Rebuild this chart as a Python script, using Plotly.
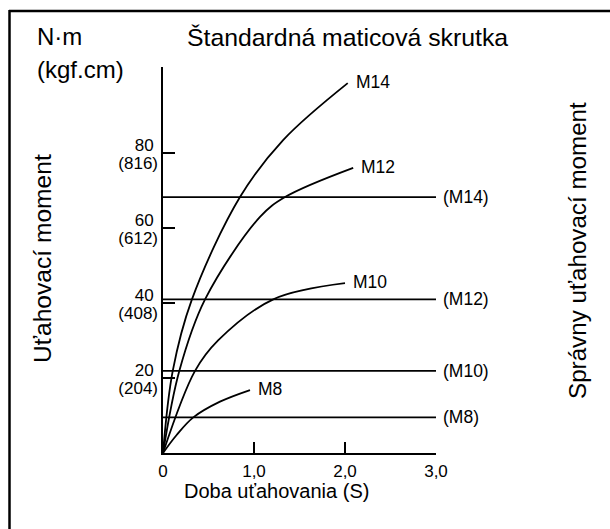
import plotly.graph_objects as go

# ---- data ----
m14_t = [0, 0.107, 0.315, 0.846, 1.32, 2.03]
m14_v = [0, 21.9, 40.8, 68.3, 83.5, 98.7]
m12_t = [0, 0.179, 0.462, 1.066, 1.341, 2.09]
m12_v = [0, 21.9, 41.0, 63.0, 68.3, 76.1]
m10_t = [0, 0.352, 0.608, 1.212, 2.0]
m10_v = [0, 21.9, 30.1, 41.0, 45.3]
m8_t = [0, 0.15, 0.333, 0.626, 0.956]
m8_v = [0, 4.8, 9.5, 13.7, 16.8]
curve_names = ["M14", "M12", "M10", "M8"]

corr_labels = ["(M14)", "(M12)", "(M10)", "(M8)"]
corr_values = [68.3, 41.0, 21.9, 9.5]

x_tickvals = [0, 1, 2, 3]
x_ticktext = ["0", "1,0", "2,0", "3,0"]
y_tickvals = [20, 40, 60, 80]
y_ticktext_nm = ["20", "40", "60", "80"]
y_ticktext_kgf = ["(204)", "(408)", "(612)", "(816)"]

title = "Štandardná maticová skrutka"
unit1 = "N·m"
unit2 = "(kgf.cm)"
y_title = "Uťahovací moment"
y2_title = "Správny uťahovací moment"
x_title = "Doba uťahovania (S)"

# ---- layout geometry (pixels) ----
W, H = 610, 529
L, R, T, B = 163, 436, 67, 453
FONT = "Liberation Sans, Arial, sans-serif"


def px_x(p):
    return (p - L) / (R - L)


def px_y(p):
    return (B - p) / (B - T)


fig = go.Figure()

curves = [(m14_t, m14_v), (m12_t, m12_v), (m10_t, m10_v), (m8_t, m8_v)]
for (t, v), name in zip(curves, curve_names):
    fig.add_trace(go.Scatter(x=t, y=v, mode="lines", name=name,
                             line=dict(color="black", width=1.8, shape="spline", smoothing=1.0),
                             hoverinfo="skip"))

for lab, val in zip(corr_labels, corr_values):
    fig.add_trace(go.Scatter(x=[0, 3], y=[val, val], mode="lines", name=lab,
                             line=dict(color="black", width=1.8), hoverinfo="skip"))

# invisible trace to activate the second (kgf.cm) tick-label axis
fig.add_trace(go.Scatter(x=[0], y=[0], yaxis="y2", mode="markers",
                         marker=dict(opacity=0), hoverinfo="skip", showlegend=False))

annotations = []
for (t, v), name in zip(curves, curve_names):
    annotations.append(dict(x=t[-1], y=v[-1], xref="x", yref="y", text=name,
                            showarrow=False, xanchor="left", yanchor="middle",
                            xshift=6, yshift=1, font=dict(size=17.5, color="black", family=FONT)))
for lab, val in zip(corr_labels, corr_values):
    annotations.append(dict(x=3, y=val, xref="x", yref="y", text=lab,
                            showarrow=False, xanchor="left", yanchor="middle",
                            xshift=5, font=dict(size=17.5, color="black", family=FONT)))

annotations += [
    dict(x=px_x(347), y=px_y(38), xref="paper", yref="paper", text=title, showarrow=False,
         xanchor="center", yanchor="middle", font=dict(size=24.8, color="black", family=FONT)),
    dict(x=px_x(35), y=px_y(37), xref="paper", yref="paper", text=unit1, showarrow=False,
         xanchor="left", yanchor="middle", font=dict(size=24, color="black", family=FONT)),
    dict(x=px_x(35), y=px_y(69), xref="paper", yref="paper", text=unit2, showarrow=False,
         xanchor="left", yanchor="middle", font=dict(size=24, color="black", family=FONT)),
    dict(x=px_x(42), y=px_y(259), xref="paper", yref="paper", text=y_title, showarrow=False,
         textangle=-90, xanchor="center", yanchor="middle",
         font=dict(size=24.6, color="black", family=FONT)),
    dict(x=px_x(577), y=px_y(251), xref="paper", yref="paper", text=y2_title, showarrow=False,
         textangle=-90, xanchor="center", yanchor="middle",
         font=dict(size=24.2, color="black", family=FONT)),
    dict(x=px_x(276), y=px_y(491), xref="paper", yref="paper", text=x_title, showarrow=False,
         xanchor="center", yanchor="middle", font=dict(size=20, color="black", family=FONT)),
]

shapes = [
    dict(type="line", xref="paper", yref="paper", x0=px_x(9), y0=px_y(11), x1=px_x(620), y1=px_y(11),
         line=dict(color="black", width=2.5)),
    dict(type="line", xref="paper", yref="paper", x0=px_x(9.5), y0=px_y(10), x1=px_x(9.5), y1=px_y(540),
         line=dict(color="black", width=2.5)),
]

fig.update_layout(
    width=W, height=H,
    margin=dict(l=L, r=W - R, t=T, b=H - B, pad=0),
    paper_bgcolor="white", plot_bgcolor="white",
    showlegend=False,
    annotations=annotations,
    shapes=shapes,
    font=dict(family=FONT, color="black"),
    xaxis=dict(range=[0, 3], showline=True, linecolor="black", linewidth=1.8,
               ticks="inside", ticklen=11, tickwidth=1.5, tickcolor="black",
               tickvals=x_tickvals, ticktext=x_ticktext, tickfont=dict(size=17, family=FONT),
               ticklabelstandoff=2,
               showgrid=False, zeroline=False, fixedrange=True),
    yaxis=dict(range=[0, 103], showline=True, linecolor="black", linewidth=1.8,
               ticks="inside", ticklen=12, tickwidth=1.5, tickcolor="black",
               tickvals=y_tickvals, ticktext=y_ticktext_nm, tickfont=dict(size=17, family=FONT),
               ticklabelshift=-8, ticklabelstandoff=4,
               showgrid=False, zeroline=False, fixedrange=True),
    yaxis2=dict(range=[0, 103], overlaying="y", side="left", anchor="x",
                showline=False, ticks="", tickvals=y_tickvals, ticktext=y_ticktext_kgf,
                tickfont=dict(size=17, family=FONT), ticklabelshift=10, ticklabelstandoff=4,
                showgrid=False, zeroline=False, fixedrange=True),
)

fig.write_html("out.html")
